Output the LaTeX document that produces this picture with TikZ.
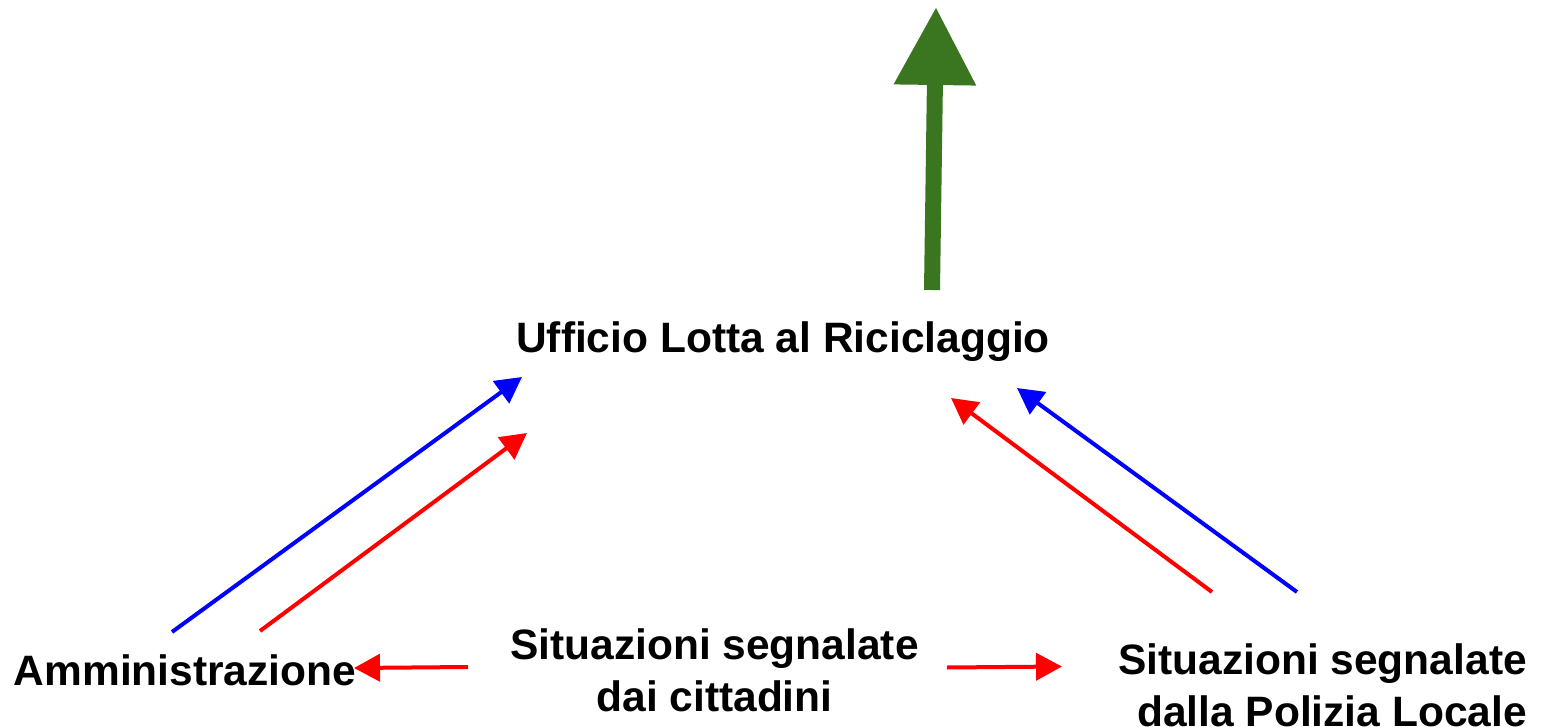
\documentclass[tikz,border=0pt]{standalone}
\usepackage{fontspec}
\setmainfont{Liberation Sans}
\usetikzlibrary{arrows.meta}

\definecolor{flowgreen}{RGB}{58,118,32}

\begin{document}
\begin{tikzpicture}[x=0.5pt,y=-0.5pt,
  label/.style={font=\fontsize{21.25}{26}\selectfont\bfseries, inner sep=0pt, align=center, anchor=base},
  thinarrow/.style={line width=2pt, -{Triangle[width=13.5pt,length=13pt]}},
  bluearrow/.style={thinarrow, draw=blue},
  redarrow/.style={thinarrow, draw=red}]
\useasboundingbox (0,0) rectangle (1547,727);

% labels
\node[label] (ufficio) at (783,352) {Ufficio Lotta al Riciclaggio};
\node[label] (amm) at (185,685) {Amministrazione};
\node[label] (cit) at (714.5,711) {Situazioni segnalate\\dai cittadini};
\node[label, align=right] (pol) at (1322.5,726) {Situazioni segnalate\\dalla Polizia Locale};

% arrow ends
\coordinate (gtail) at (932,290);
\coordinate (gtip) at (936,7);
\coordinate (ablue) at (172,632);
\coordinate (ared) at (260,631);
\coordinate (ublueL) at (522,377);
\coordinate (uredL) at (527,433);
\coordinate (pred) at (1212,592);
\coordinate (pblue) at (1297,592);
\coordinate (uredR) at (951,398);
\coordinate (ublueR) at (1017,388);
\coordinate (citL) at (468,667);
\coordinate (ammR) at (354,668);
\coordinate (citR) at (947,667.5);
\coordinate (polL) at (1062,666.5);

% green arrow
\draw[line width=8pt, draw=flowgreen, -{Triangle[width=39pt,length=39pt]}] (gtail) -- (gtip);

% left side
\draw[bluearrow] (ablue) -- (ublueL);
\draw[redarrow] (ared) -- (uredL);

% right side
\draw[redarrow] (pred) -- (uredR);
\draw[bluearrow] (pblue) -- (ublueR);

% bottom
\draw[redarrow] (citL) -- (ammR);
\draw[redarrow] (citR) -- (polL);
\end{tikzpicture}
\end{document}
